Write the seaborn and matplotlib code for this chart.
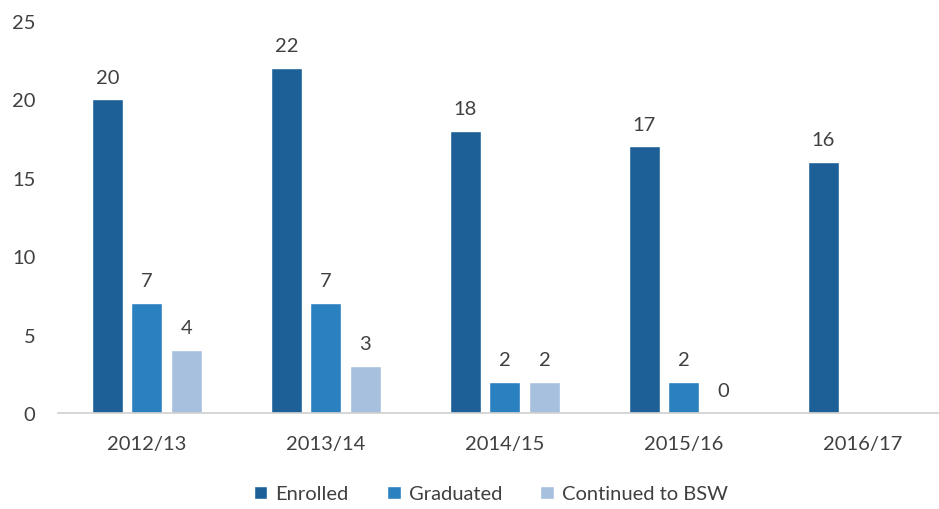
import numpy as np
import pandas as pd
import matplotlib
matplotlib.use("Agg")
import matplotlib.pyplot as plt
import seaborn as sns

years = ["2012/13", "2013/14", "2014/15", "2015/16", "2016/17"]
enrolled = [20, 22, 18, 17, 16]
graduated = [7, 7, 2, 2, np.nan]
continued = [4, 3, 2, 0, np.nan]
series_names = ["Enrolled", "Graduated", "Continued to BSW"]
colors = ["#1d6097", "#2b80c0", "#a6c0de"]
yticks = [0, 5, 10, 15, 20, 25]

sns.set_theme(style="white")
plt.rcParams["font.family"] = ["Lato", "DejaVu Sans"]
text_color = "#404040"
fs = 14.5

rows = []
for name, vals in zip(series_names, [enrolled, graduated, continued]):
    for y, v in zip(years, vals):
        rows.append({"Year": y, "Series": name, "Value": v})
df = pd.DataFrame(rows).dropna()

fig = plt.figure(figsize=(9.39, 5.10), dpi=100)
ax = fig.add_axes([57.5 / 939, 96 / 510, 1 - 57.5 / 939, (414 - 22) / 510])

sns.barplot(data=df, x="Year", y="Value", hue="Series", order=years,
            hue_order=series_names, palette=colors, width=0.662, gap=0.215,
            saturation=1, ax=ax, legend=True)

for cont in ax.containers:
    ax.bar_label(cont, fmt="%d", padding=10, fontsize=fs, color=text_color)

ax.set_ylim(0, 25)
ax.set_xlim(-0.5, 4.425)
ax.set_yticks(yticks)
ax.set_xlabel("")
ax.set_ylabel("")
for s in ["top", "right", "left"]:
    ax.spines[s].set_visible(False)
ax.spines["bottom"].set_color("#d0d0d0")
ax.spines["bottom"].set_linewidth(1.2)
ax.tick_params(axis="y", length=0, pad=16, labelsize=fs, labelcolor=text_color)
ax.tick_params(axis="x", length=0, pad=16, labelsize=fs, labelcolor=text_color)

handles, labels = ax.get_legend_handles_labels()
ax.get_legend().remove()
fig.legend(handles, labels, loc="center", bbox_to_anchor=(491 / 939, 1 - 495 / 510),
           ncol=3, frameon=False, fontsize=fs, handlelength=0.68, handleheight=0.68,
           handletextpad=0.4, columnspacing=1.9, labelcolor=text_color)

fig.savefig("out.png", dpi=100)
